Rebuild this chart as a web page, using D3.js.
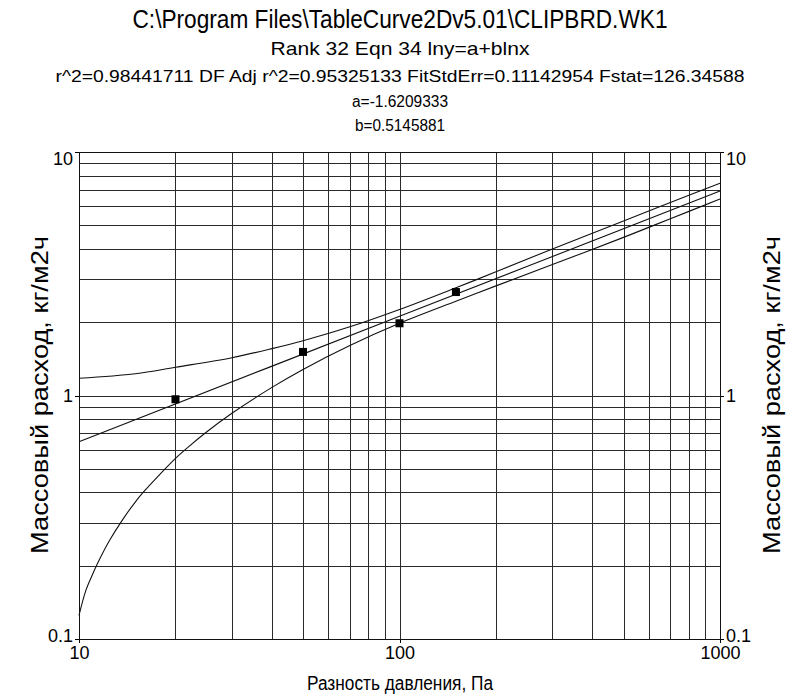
<!DOCTYPE html>
<html><head><meta charset="utf-8">
<script src="https://cdn.jsdelivr.net/npm/d3@7/dist/d3.min.js"></script>
<style>body{margin:0;background:#fff}svg{display:block}text{font-family:"Liberation Sans",Arial,sans-serif;fill:#000}</style>
</head><body>
<svg id="c" width="800" height="697"></svg>
<script>
// ---- data ----
const titleLines = [
  "C:\\Program Files\\TableCurve2Dv5.01\\CLIPBRD.WK1",
  "Rank 32  Eqn 34  lny=a+blnx",
  "r^2=0.98441711  DF Adj r^2=0.95325133  FitStdErr=0.11142954  Fstat=126.34588",
  "a=-1.6209333",
  "b=0.5145881"
];
const xLabel = "Разность давления, Па";
const yLabel = "Массовый расход, кг/м2ч";
const xTicks = [10, 100, 1000];
const yTicks = [0.1, 1, 10];
const xTickLabels = ["10", "100", "1000"];
const yTickLabels = ["0.1", "1", "10"];
const xGrid = [10,20,30,40,50,60,70,80,90,100,200,300,400,500,600,700,800,900,1000];
const yGrid = [0.1,0.2,0.3,0.4,0.5,0.6,0.7,0.8,0.9,1,2,3,4,5,6,7,8,9,10];
// measured points
const pointsX = [20, 50, 100, 150];
const pointsY = [0.965, 1.51, 1.98, 2.66];
// fitted curve
const fitX = [10, 100, 1000];
const fitY = [0.646, 2.115, 6.91];
// upper band
const upperX = [10, 15, 20, 30, 40, 50, 70, 100, 150, 200, 300, 500, 700, 1000];
const upperY = [1.177, 1.228, 1.306, 1.43, 1.558, 1.679, 1.915, 2.256, 2.77, 3.22, 4.0, 5.21, 6.20, 7.44];
// lower band
const lowerX = [10, 10.5, 11, 11.5, 12.5, 13.7, 15, 15.8, 18, 20, 22, 25, 30, 40, 50, 70, 100, 150, 200, 300, 500, 700, 1000];
const lowerY = [0.125, 0.158, 0.183, 0.208, 0.256, 0.310, 0.366, 0.398, 0.479, 0.552, 0.617, 0.708, 0.845, 1.08, 1.28, 1.605, 1.98, 2.44, 2.82, 3.45, 4.46, 5.32, 6.41];

// ---- layout ----
const L = 79, R = 720, T = 152, B = 639;
const svg = d3.select("#c");
const x = d3.scaleLog().domain([10, 1000]).range([L, R]);
const y = d3.scaleLog().domain([0.1, 10]).range([B, T]);

// titles
const tY = [28, 55, 82, 107, 131];
const tSize = [25, 19, 16, 16, 16];
const tLen = [535, 259, 689, 96, 90];
titleLines.forEach((s, i) => {
  svg.append("text").attr("x", 400).attr("y", tY[i]).attr("text-anchor", "middle")
    .attr("font-size", tSize[i]).attr("textLength", tLen[i]).attr("lengthAdjust", "spacingAndGlyphs").text(s);
});

// grid
const g = svg.append("g").attr("shape-rendering", "crispEdges");
g.selectAll(".vx").data(xGrid).join("line")
  .attr("x1", d => Math.round(x(d)) + 0.5).attr("x2", d => Math.round(x(d)) + 0.5)
  .attr("y1", T).attr("y2", B).attr("stroke", "#2a2a2a").attr("stroke-width", 1);
g.selectAll(".hy").data(yGrid).join("line")
  .attr("y1", d => Math.round(y(d)) + 0.5).attr("y2", d => Math.round(y(d)) + 0.5)
  .attr("x1", L).attr("x2", R).attr("stroke", "#2a2a2a").attr("stroke-width", 1);

// axes (ticks outward, no domain path)
const ax = svg.append("g").attr("shape-rendering", "crispEdges");
const fam = "Liberation Sans, Arial, sans-serif";
const bAxis = d3.axisBottom(x).tickValues(xTicks).tickFormat((d, i) => xTickLabels[i]).tickSize(4).tickPadding(3);
ax.append("g").attr("transform", `translate(0,${B})`).call(bAxis)
  .call(a => a.select(".domain").remove())
  .call(a => a.selectAll("text").attr("font-size", 18).attr("font-family", fam).attr("fill", "#000"));
const yDy = d => d === 10 ? "0.7em" : d === 0.1 ? "0.15em" : "0.35em";
const lAxis = d3.axisLeft(y).tickValues(yTicks).tickFormat((d, i) => yTickLabels[i]).tickSize(4).tickPadding(2);
ax.append("g").attr("transform", `translate(${L},0)`).call(lAxis)
  .call(a => a.select(".domain").remove())
  .call(a => a.selectAll("text").attr("font-size", 18).attr("font-family", fam).attr("fill", "#000").attr("dy", yDy));
const rAxis = d3.axisRight(y).tickValues(yTicks).tickFormat((d, i) => yTickLabels[i]).tickSize(4).tickPadding(2);
ax.append("g").attr("transform", `translate(${R},0)`).call(rAxis)
  .call(a => a.select(".domain").remove())
  .call(a => a.selectAll("text").attr("font-size", 18).attr("font-family", fam).attr("fill", "#000").attr("dy", yDy));

// frame
svg.append("rect").attr("x", L + 0.5).attr("y", T + 0.5).attr("width", R - L).attr("height", B - T)
  .attr("fill", "none").attr("stroke", "#111").attr("shape-rendering", "crispEdges");

// curves
const line = d3.line().x(d => x(d[0])).y(d => y(d[1])).curve(d3.curveCatmullRom.alpha(0.5));
const curves = [
  d3.zip(upperX, upperY),
  d3.zip(fitX, fitY),
  d3.zip(lowerX, lowerY)
];
svg.append("g").selectAll("path").data(curves).join("path")
  .attr("d", line).attr("fill", "none").attr("stroke", "#111").attr("stroke-width", 1.1);

// points
svg.append("g").selectAll("rect").data(d3.zip(pointsX, pointsY)).join("rect")
  .attr("x", d => x(d[0]) - 4).attr("y", d => y(d[1]) - 4).attr("width", 8).attr("height", 8).attr("fill", "#000");

// axis labels
svg.append("text").attr("x", 400).attr("y", 690).attr("text-anchor", "middle").attr("font-size", 20)
  .attr("textLength", 186).attr("lengthAdjust", "spacingAndGlyphs").text(xLabel);
[48, 780].forEach(cx => {
  svg.append("text").attr("transform", `translate(${cx},395) rotate(-90)`).attr("text-anchor", "middle")
    .attr("font-size", 24).attr("textLength", 318).attr("lengthAdjust", "spacingAndGlyphs").text(yLabel);
});
</script>
</body></html>
